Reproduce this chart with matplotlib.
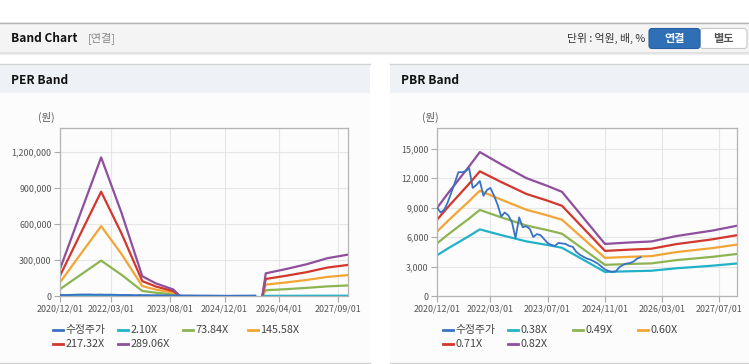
import numpy as np
import pandas as pd
import matplotlib
matplotlib.use("Agg")
import matplotlib.pyplot as plt
import matplotlib.dates as mdates
from matplotlib.patches import Rectangle, FancyBboxPatch
from matplotlib.ticker import FuncFormatter

plt.rcParams['font.family'] = ['Noto Sans CJK KR', 'DejaVu Sans']

W, H = 749, 364

# 수정주가 (monthly)
price_dates = pd.date_range('2020-12-01', '2025-09-01', freq='MS')
price = [9000, 8500, 8800, 9500, 10500, 11500, 12600, 12600, 12700, 13000,
         11000, 11300, 11700, 10200, 10800, 11000, 10200, 9300, 8100, 8500,
         8200, 7500, 5900, 8000, 7000, 7100, 6800, 6000, 6300, 6200,
         5800, 5400, 5200, 5100, 5400, 5350, 5300, 5100, 5000, 4500,
         4200, 4000, 3800, 3700, 3500, 3300, 3000, 2700, 2550, 2450,
         2500, 2900, 3150, 3300, 3350, 3500, 3800, 3950]

# PER band
per_dates = pd.to_datetime(['2020-12-01', '2021-06-01', '2021-12-01', '2022-06-01', '2022-12-01',
                            '2023-04-01', '2023-09-01', '2023-11-01', '2024-11-01', '2025-11-01',
                            '2025-12-01', '2026-06-01', '2026-12-01', '2027-06-01', '2027-12-01'])
per_labels = ['2.10X', '73.84X', '145.58X', '217.32X', '289.06X']
per_b1 = [1600, 5000, 8400, 5000, 1200, 800, 400, 0, np.nan, 0, 1400, 1600, 1900, 2300, 2500]
per_b2 = [57000, 176000, 295000, 176000, 42000, 27000, 14000, 0, np.nan, 0, 48000, 57000, 68000, 80000, 88000]
per_b3 = [113000, 348000, 582000, 348000, 83000, 53000, 28000, 0, np.nan, 0, 95000, 113000, 134000, 159000, 174000]
per_b4 = [169000, 519000, 869000, 519000, 124000, 79000, 41000, 0, np.nan, 0, 142000, 169000, 199000, 237000, 259000]
per_b5 = [225000, 690000, 1155000, 690000, 165000, 105000, 55000, 0, np.nan, 0, 189000, 225000, 265000, 315000, 345000]
per_ticks = ['2020/12/01', '2022/03/01', '2023/08/01', '2024/12/01', '2026/04/01', '2027/09/01']

# PBR band
pbr_dates = pd.to_datetime(['2020-12-01', '2021-03-01', '2021-06-01', '2021-09-01', '2021-12-01',
                            '2022-06-01', '2023-01-01', '2023-07-01', '2023-11-01', '2024-11-01',
                            '2025-06-01', '2025-12-01', '2026-07-01', '2027-05-01', '2027-12-01'])
pbr_labels = ['0.38X', '0.49X', '0.60X', '0.71X', '0.82X']
pbr_b1 = [4140, 4820, 5460, 6110, 6780, 6200, 5560, 5190, 4910, 2450, 2520, 2570, 2820, 3080, 3310]
pbr_b2 = [5350, 6220, 7060, 7890, 8760, 8010, 7180, 6700, 6340, 3170, 3260, 3320, 3650, 3980, 4280]
pbr_b3 = [6550, 7610, 8640, 9660, 10720, 9810, 8780, 8200, 7760, 3880, 3990, 4060, 4470, 4870, 5230]
pbr_b4 = [7750, 9010, 10220, 11430, 12690, 11600, 10390, 9700, 9180, 4590, 4720, 4810, 5280, 5760, 6190]
pbr_b5 = [8950, 10400, 11800, 13200, 14650, 13400, 12000, 11200, 10600, 5300, 5450, 5550, 6100, 6650, 7150]
pbr_ticks = ['2020/12/01', '2022/03/01', '2023/07/01', '2024/11/01', '2026/03/01', '2027/07/01']

colors = ['#3a72c4', '#22b2c8', '#8db452', '#f2a535', '#d3362c', '#8f4f9d']

fig = plt.figure(figsize=(W / 100, H / 100), dpi=100)
fig.patch.set_facecolor('white')

# background layer in pixel coordinates
bg = fig.add_axes([0, 0, 1, 1], zorder=-1)
bg.set_xlim(0, W)
bg.set_ylim(H, 0)
bg.axis('off')

# header bar
bg.add_patch(Rectangle((0, 22), W, 30, color='#f4f4f4', lw=0))
bg.plot([0, W], [22.5, 22.5], color='#b4b4b4', lw=1)
bg.plot([0, W], [52.5, 52.5], color='#dcdcdc', lw=1.2)
bg.plot([0, W], [54, 54], color='#eeeeee', lw=1)
bg.text(11, 38, 'Band Chart', fontsize=8.6, fontweight='bold', color='#111', va='center')
bg.text(88, 38, '[연결]', fontsize=8, color='#888', va='center')
bg.text(645, 38, '단위 : 억원, 배, %', fontsize=7.8, color='#333', va='center', ha='right')
bg.add_patch(FancyBboxPatch((700, 28.5), 47, 20, boxstyle='round,pad=0,rounding_size=3',
                            fc='white', ec='#c8c8c8', lw=0.8))
bg.add_patch(FancyBboxPatch((649, 28.5), 51, 20, boxstyle='round,pad=0,rounding_size=3',
                            fc='#2f6fb6', ec='#28609f', lw=0.8))
bg.text(674.5, 38.5, '연결', fontsize=8, fontweight='bold', color='white', va='center', ha='center')
bg.text(723.5, 38.5, '별도', fontsize=8, fontweight='bold', color='#555', va='center', ha='center')

# panels
for px0, px1, title in [(0, 370, 'PER Band'), (390, W, 'PBR Band')]:
    bg.add_patch(Rectangle((px0, 64), px1 - px0, 299, color='#fcfcfc', lw=0))
    bg.add_patch(Rectangle((px0, 64), px1 - px0, 29, color='#eef2f7', lw=0))
    bg.plot([px0, px1], [64, 64], color='#d2d2d2', lw=1)
    bg.plot([px0, px1], [363, 363], color='#d2d2d2', lw=1)
    bg.text(px0 + 11, 80, title, fontsize=8.6, fontweight='bold', color='#111', va='center')

bg.text(38, 117, '(원)', fontsize=7.5, color='#555', va='center')
bg.text(422, 117, '(원)', fontsize=7.5, color='#555', va='center')

panels = [
    dict(rect=(60, 128, 348, 296), dates=per_dates, bands=[per_b1, per_b2, per_b3, per_b4, per_b5],
         labels=per_labels, ymax=1400000, ystep=300000, yend=1200000, ticks=per_ticks, leg_x=53),
    dict(rect=(437, 128, 737, 296), dates=pbr_dates, bands=[pbr_b1, pbr_b2, pbr_b3, pbr_b4, pbr_b5],
         labels=pbr_labels, ymax=17100, ystep=3000, yend=15000, ticks=pbr_ticks, leg_x=443),
]

for p in panels:
    x0, y0, x1, y1 = p['rect']
    ax = fig.add_axes([x0 / W, 1 - y1 / H, (x1 - x0) / W, (y1 - y0) / H])
    ax.set_facecolor('none')
    ax.plot(price_dates, price, color=colors[0], lw=1.3, zorder=3)
    for i, band in enumerate(p['bands']):
        ax.plot(p['dates'], band, color=colors[i + 1], lw=1.6, zorder=2)
    ax.set_xlim(pd.Timestamp('2020-12-01'), pd.Timestamp('2027-12-01'))
    ax.set_ylim(0, p['ymax'])
    ax.set_yticks(np.arange(0, p['yend'] + 1, p['ystep']))
    ax.yaxis.set_major_formatter(FuncFormatter(lambda v, pos: '{:,.0f}'.format(v)))
    ax.set_xticks(pd.to_datetime(p['ticks'], format='%Y/%m/%d'))
    ax.set_xticklabels(p['ticks'])
    ax.tick_params(labelsize=6.4, colors='#555', length=4, width=0.8, pad=2)
    ax.tick_params(axis='both', color='#aaaaaa')
    ax.grid(color='#e6e6e6', lw=0.8)
    ax.set_axisbelow(True)
    for s in ax.spines.values():
        s.set_color('#b4b4b4')
        s.set_linewidth(0.9)

    # legend
    names = ['수정주가'] + p['labels']
    for i, name in enumerate(names):
        lx = p['leg_x'] + (i % 4) * 65
        ly = 330 + (i // 4) * 14
        bg.plot([lx, lx + 10], [ly, ly], color=colors[i], lw=2)
        bg.text(lx + 12.5, ly, name, fontsize=7.8, color='#444', va='center')

fig.savefig('out.png', dpi=100)
